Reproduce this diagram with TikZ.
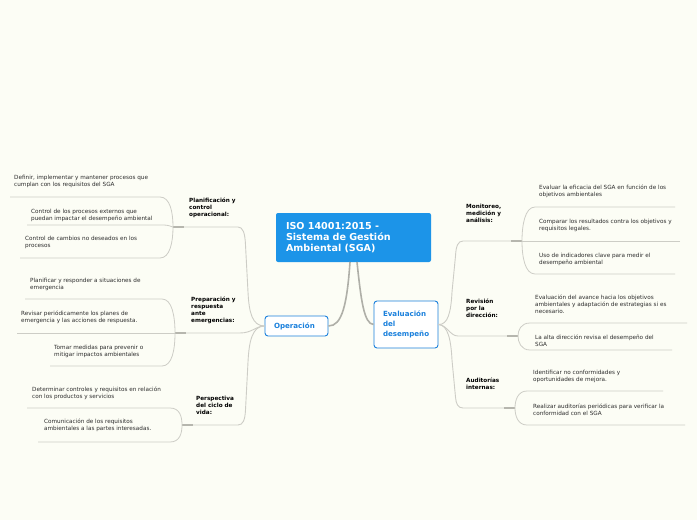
\documentclass[tikz,border=0pt]{standalone}
\usepackage{fontspec}
\setmainfont{DejaVu Sans}
\definecolor{bgc}{RGB}{252,253,245}
\definecolor{mainblue}{RGB}{28,148,232}
\definecolor{topblue}{RGB}{26,128,220}
\definecolor{leafline}{RGB}{205,205,198}
\definecolor{stubline}{RGB}{182,182,174}
\definecolor{mainline}{RGB}{175,175,168}
\definecolor{leaftext}{RGB}{45,45,45}
\tikzset{
  leaf/.style={font=\fontsize{5.7}{7}\selectfont, text=leaftext, align=left, anchor=north west, inner sep=0pt},
  lab/.style={font=\bfseries\fontsize{5.7}{6.8}\selectfont, text=black, align=left, anchor=north west, inner sep=0pt},
  topic/.style={draw=topblue, line width=0.9pt, fill=white, rounded corners=3pt, text=topblue,
    font=\bfseries\fontsize{7.1}{9.7}\selectfont, align=left, inner xsep=9pt, inner ysep=0pt},
  lline/.style={draw=leafline, line width=0.8pt},
  bline/.style={draw=leafline, line width=0.9pt},
  stub/.style={draw=stubline, line width=1.3pt},
  cline/.style={draw=mainline, line width=1.6pt},
}
\begin{document}
\begin{tikzpicture}[x=1pt,y=-1pt]
\fill[bgc] (0,0) rectangle (697,520);
\useasboundingbox (0,0) rectangle (697,520);

% central
\node[fill=mainblue, rounded corners=2pt, minimum width=155pt, minimum height=49pt, text width=135pt,
  inner xsep=10pt, align=left, text=white, font=\bfseries\fontsize{9.6}{11}\selectfont]
  (c) at (353.5,237.5) {ISO 14001:2015 -\\Sistema de Gestión\\Ambiental (SGA)};
\node[topic, minimum width=63pt, minimum height=20pt, text width=45pt] (op) at (296.5,326) {Operación};
\node[topic, minimum width=64pt, minimum height=47pt, text width=46pt] (ev) at (406,324.5) {Evaluación\\del\\desempeño};

\coordinate (c1) at (350,262);
\coordinate (c2) at (357,262);
\draw[cline] (c1) .. controls (347,305) and (342,326) .. (op.east);
\draw[cline] (c2) .. controls (361,300) and (364,324) .. (ev.west);

% junctions
\coordinate (PL) at (173,227);
\coordinate (PR) at (175,333);
\coordinate (PE) at (182,425);
\coordinate (MO) at (522,241);
\coordinate (RV) at (518,336);
\coordinate (AU) at (515,408);

% left main branches
\draw[bline] (op.west) .. controls (252,326) and (249,312) .. (248,292) -- (245.5,245) .. controls (245,233) and (243,227) .. (238,227) -- (PL);
\draw[bline] (op.west) .. controls (256,326) and (252,333) .. (240,333) -- (PR);
\draw[bline] (op.west) .. controls (252,326) and (249,342) .. (248,362) -- (245.5,410) .. controls (245,420) and (243,425) .. (238,425) -- (PE);
\draw[stub] (PL) -- ++(11,0);
\draw[stub] (PR) -- ++(11,0);
\draw[stub] (PE) -- ++(11,0);

% right main branches
\draw[bline] (ev.east) .. controls (448,325) and (451,312) .. (452,292) -- (455.5,256) .. controls (456,246) and (458,241) .. (463,241) -- (MO);
\draw[bline] (ev.east) .. controls (447,325) and (450,336) .. (458,336) -- (RV);
\draw[bline] (ev.east) .. controls (448,325) and (451,340) .. (452,360) -- (455.5,397) .. controls (456,404) and (458,408) .. (463,408) -- (AU);
\draw[stub] (MO) -- ++(-11,0);
\draw[stub] (RV) -- ++(-11,0);
\draw[stub] (AU) -- ++(-11,0);

% left leaf lines
\draw[lline] (10,197) -- (160,197) .. controls (170,197) and (173,212) .. (PL);
\draw[lline] (27,225) -- (160,225) .. controls (167,225) .. (PL);
\draw[lline] (20,258) -- (160,258) .. controls (170,258) and (173,242) .. (PL);
\draw[lline] (25,299) -- (162,299) .. controls (172,299) and (175,316) .. (PR);
\draw[lline] (17,333) -- (PR);
\draw[lline] (50,366) -- (162,366) .. controls (172,366) and (175,350) .. (PR);
\draw[lline] (27,408) -- (170,408) .. controls (180,408) and (182,417) .. (PE);
\draw[lline] (38,442) -- (170,442) .. controls (180,442) and (182,433) .. (PE);

% right leaf lines
\draw[lline] (675,207) -- (535,207) .. controls (525,207) and (522,225) .. (MO);
\draw[lline] (680,241) -- (MO);
\draw[lline] (675,274) -- (535,274) .. controls (525,274) and (522,257) .. (MO);
\draw[lline] (687,323) -- (530,323) .. controls (521,323) and (518,330) .. (RV);
\draw[lline] (672,350) -- (530,350) .. controls (521,350) and (518,342) .. (RV);
\draw[lline] (663,391) -- (527,391) .. controls (518,391) and (515,400) .. (AU);
\draw[lline] (685,425) -- (527,425) .. controls (518,425) and (515,416) .. (AU);

% left labels
\node[lab] (lab1) at (189,198) {Planificación y\\control\\operacional:};
\node[lab] (lab2) at (191,297) {Preparación y\\respuesta\\ante\\emergencias:};
\node[lab] (lab3) at (196,396) {Perspectiva\\del ciclo de\\vida:};
% left leaves
\node[leaf] (l1a) at (14,174.5) {Definir, implementar y mantener procesos que\\cumplan con los requisitos del SGA};
\node[leaf] (l1b) at (31,208.5) {Control de los procesos externos que\\puedan impactar el desempeño ambiental};
\node[leaf] (l1c) at (25,235.5) {Control de cambios no deseados en los\\procesos};
\node[leaf] (l2a) at (30,277.5) {Planificar y responder a situaciones de\\emergencia};
\node[leaf] (l2b) at (21,310.5) {Revisar periódicamente los planes de\\emergencia y las acciones de respuesta.};
\node[leaf] (l2c) at (54,344.5) {Tomar medidas para prevenir o\\mitigar impactos ambientales};
\node[leaf] (l3a) at (32,386.5) {Determinar controles y requisitos en relación\\con los productos y servicios};
\node[leaf] (l3b) at (44,418.5) {Comunicación de los requisitos\\ambientales a las partes interesadas.};

% right labels
\node[lab] (lab4) at (466,204) {Monitoreo,\\medición y\\análisis:};
\node[lab] (lab5) at (466,299) {Revisión\\por la\\dirección:};
\node[lab] (lab6) at (466,378) {Auditorías\\internas:};
% right leaves
\node[leaf] (r1a) at (539,184.5) {Evaluar la eficacia del SGA en función de los\\objetivos ambientales};
\node[leaf] (r1b) at (539,218.5) {Comparar los resultados contra los objetivos y\\requisitos legales.};
\node[leaf] (r1c) at (539,252.5) {Uso de indicadores clave para medir el\\desempeño ambiental};
\node[leaf] (r2a) at (535,294.5) {Evaluación del avance hacia los objetivos\\ambientales y adaptación de estrategias si es\\necesario.};
\node[leaf] (r2b) at (535,334.5) {La alta dirección revisa el desempeño del\\SGA};
\node[leaf] (r3a) at (533,369.5) {Identificar no conformidades y\\oportunidades de mejora.};
\node[leaf] (r3b) at (533,403.5) {Realizar auditorías periódicas para verificar la\\conformidad con el SGA};
\end{tikzpicture}
\end{document}
